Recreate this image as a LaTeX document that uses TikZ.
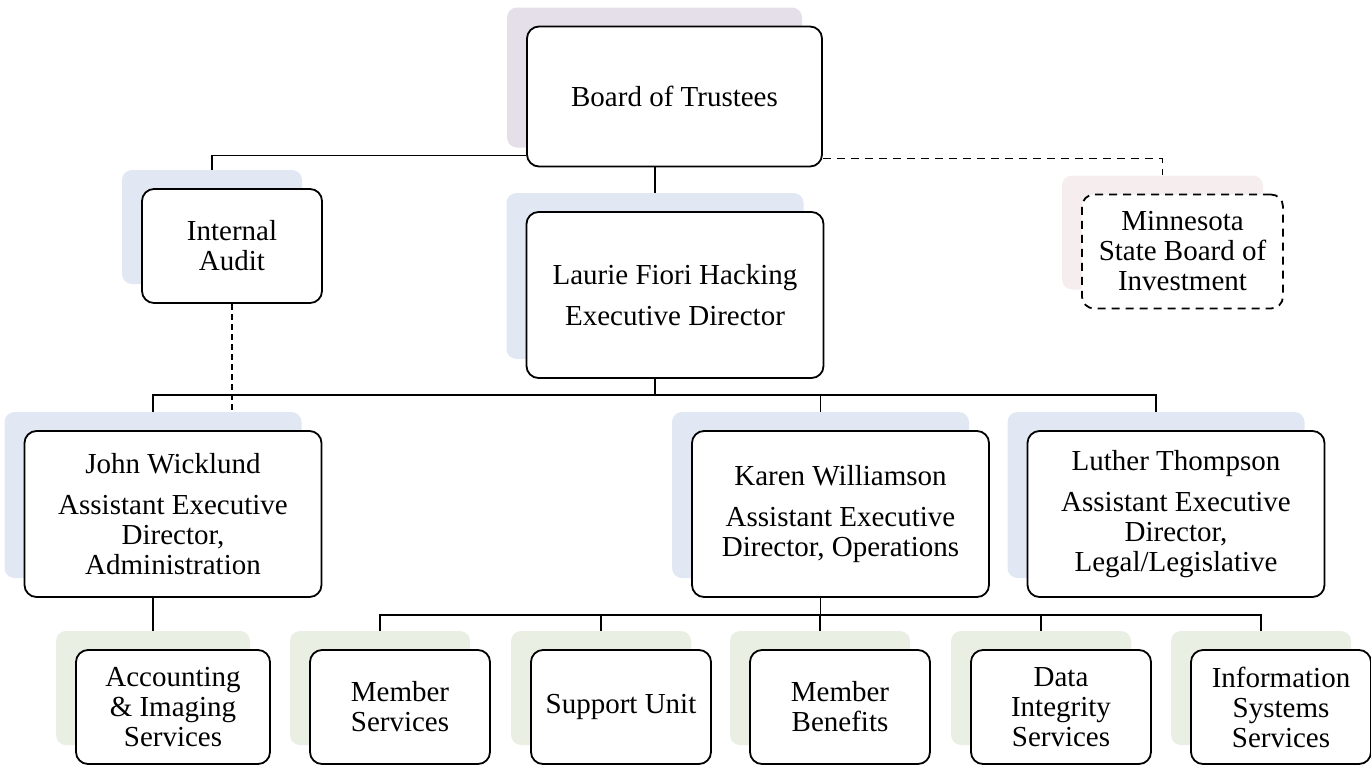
\documentclass[tikz,border=0pt]{standalone}
\usepackage{fontspec}
\setmainfont{Liberation Serif}
\usetikzlibrary{positioning}

\definecolor{lavender}{HTML}{E4DFE8}
\definecolor{paleblue}{HTML}{E1E8F3}
\definecolor{palepink}{HTML}{F6EEEE}
\definecolor{palegreen}{HTML}{E9EFE2}

\tikzset{
	unit/.style={draw, line width=0.9pt, rounded corners=6pt, fill=white,
		align=center, inner sep=2pt, font=\fontsize{14.5}{15}\selectfont},
	back/.style={fill=#1, rounded corners=5pt, inner sep=0pt},
	headbox/.style={minimum width=147.5pt, minimum height=70pt},
	bigbox/.style={minimum width=148.5pt, minimum height=83pt},
	smallbox/.style={minimum width=90pt, minimum height=57pt},
	link/.style={line width=0.9pt},
	dotlink/.style={line width=0.6pt, dash pattern=on 3pt off 2pt}
}

\begin{document}
\begin{tikzpicture} [
						x=0.5pt, y=-0.5pt
					]
\useasboundingbox (0,0) rectangle (1371,766);

% shadows
\node (bt-s)  [back=lavender, headbox] at (654.5,77.5) {};
\node (ia-s)  [back=paleblue, smallbox] at (212,227) {};
\node (ed-s)  [back=paleblue, bigbox] at (655,276) {};
\node (sbi-s) [back=palepink, smallbox, minimum width=100.5pt] at (1162.5,232.5) {};
\node (jw-s)  [back=paleblue, bigbox] at (153,495) {};
\node (kw-s)  [back=paleblue, bigbox] at (820.5,495) {};
\node (lt-s)  [back=paleblue, bigbox] at (1156,495) {};
\node (ai-s)  [back=palegreen, smallbox, minimum width=97pt] at (153,688) {};
\node (ms-s)  [back=palegreen, smallbox] at (380,688) {};
\node (su-s)  [back=palegreen, smallbox] at (601,688) {};
\node (mb-s)  [back=palegreen, smallbox] at (820,688) {};
\node (di-s)  [back=palegreen, smallbox] at (1041,688) {};
\node (is-s)  [back=palegreen, smallbox] at (1261,688) {};

% boxes
\node (bt)  [unit, headbox] at ([shift={(20,19)}]bt-s) {Board of Trustees};
\node (ia)  [unit, smallbox] at ([shift={(20,19)}]ia-s) {Internal\\Audit};
\node (ed)  [unit, bigbox] at ([shift={(20,19)}]ed-s) {Laurie Fiori Hacking\\[5.5pt]Executive Director};
\node (sbi) [unit, smallbox, minimum width=100.5pt, dash pattern=on 4pt off 3pt]
	at ([shift={(20,19)}]sbi-s) {Minnesota\\State Board of\\Investment};
\node (jw)  [unit, bigbox] at ([shift={(20,19)}]jw-s) {John Wicklund\\[5.5pt]Assistant Executive\\Director,\\Administration};
\node (kw)  [unit, bigbox] at ([shift={(20,19)}]kw-s) {Karen Williamson\\[5.5pt]Assistant Executive\\Director, Operations};
\node (lt)  [unit, bigbox] at ([shift={(20,19)}]lt-s) {Luther Thompson\\[5.5pt]Assistant Executive\\Director,\\Legal/Legislative};
\node (ai)  [unit, smallbox, minimum width=97pt] at ([shift={(20,19)}]ai-s) {Accounting\\\& Imaging\\Services};
\node (ms)  [unit, smallbox] at ([shift={(20,19)}]ms-s) {Member\\Services};
\node (su)  [unit, smallbox] at ([shift={(20,19)}]su-s) {Support Unit};
\node (mb)  [unit, smallbox] at ([shift={(20,19)}]mb-s) {Member\\Benefits};
\node (di)  [unit, smallbox] at ([shift={(20,19)}]di-s) {Data\\Integrity\\Services};
\node (is)  [unit, smallbox] at ([shift={(20,19)}]is-s) {Information\\Systems\\Services};

% links
\draw[link] ([yshift=6pt]bt.south west) -| (ia-s.north);
\draw[link] (ed-s.north |- bt.south) -- (ed-s.north);
\draw[link, dash pattern=on 4pt off 3pt] ([yshift=4.5pt]bt.south east) -| (sbi-s.north);
\draw[dotlink] (ia.south) -- (ia.south |- jw-s.north);

\foreach \n in {jw,kw,lt}
	\draw[link] (ed-s.south |- ed.south) -- ++(0,16) -| (\n-s.north);

\draw[link] (jw-s.south |- jw.south) -- (ai-s.north);

\foreach \n in {ms,su,mb,di,is}
	\draw[link] (kw-s.south |- kw.south) -- ++(0,17) -| (\n-s.north);

\end{tikzpicture}
\end{document}
